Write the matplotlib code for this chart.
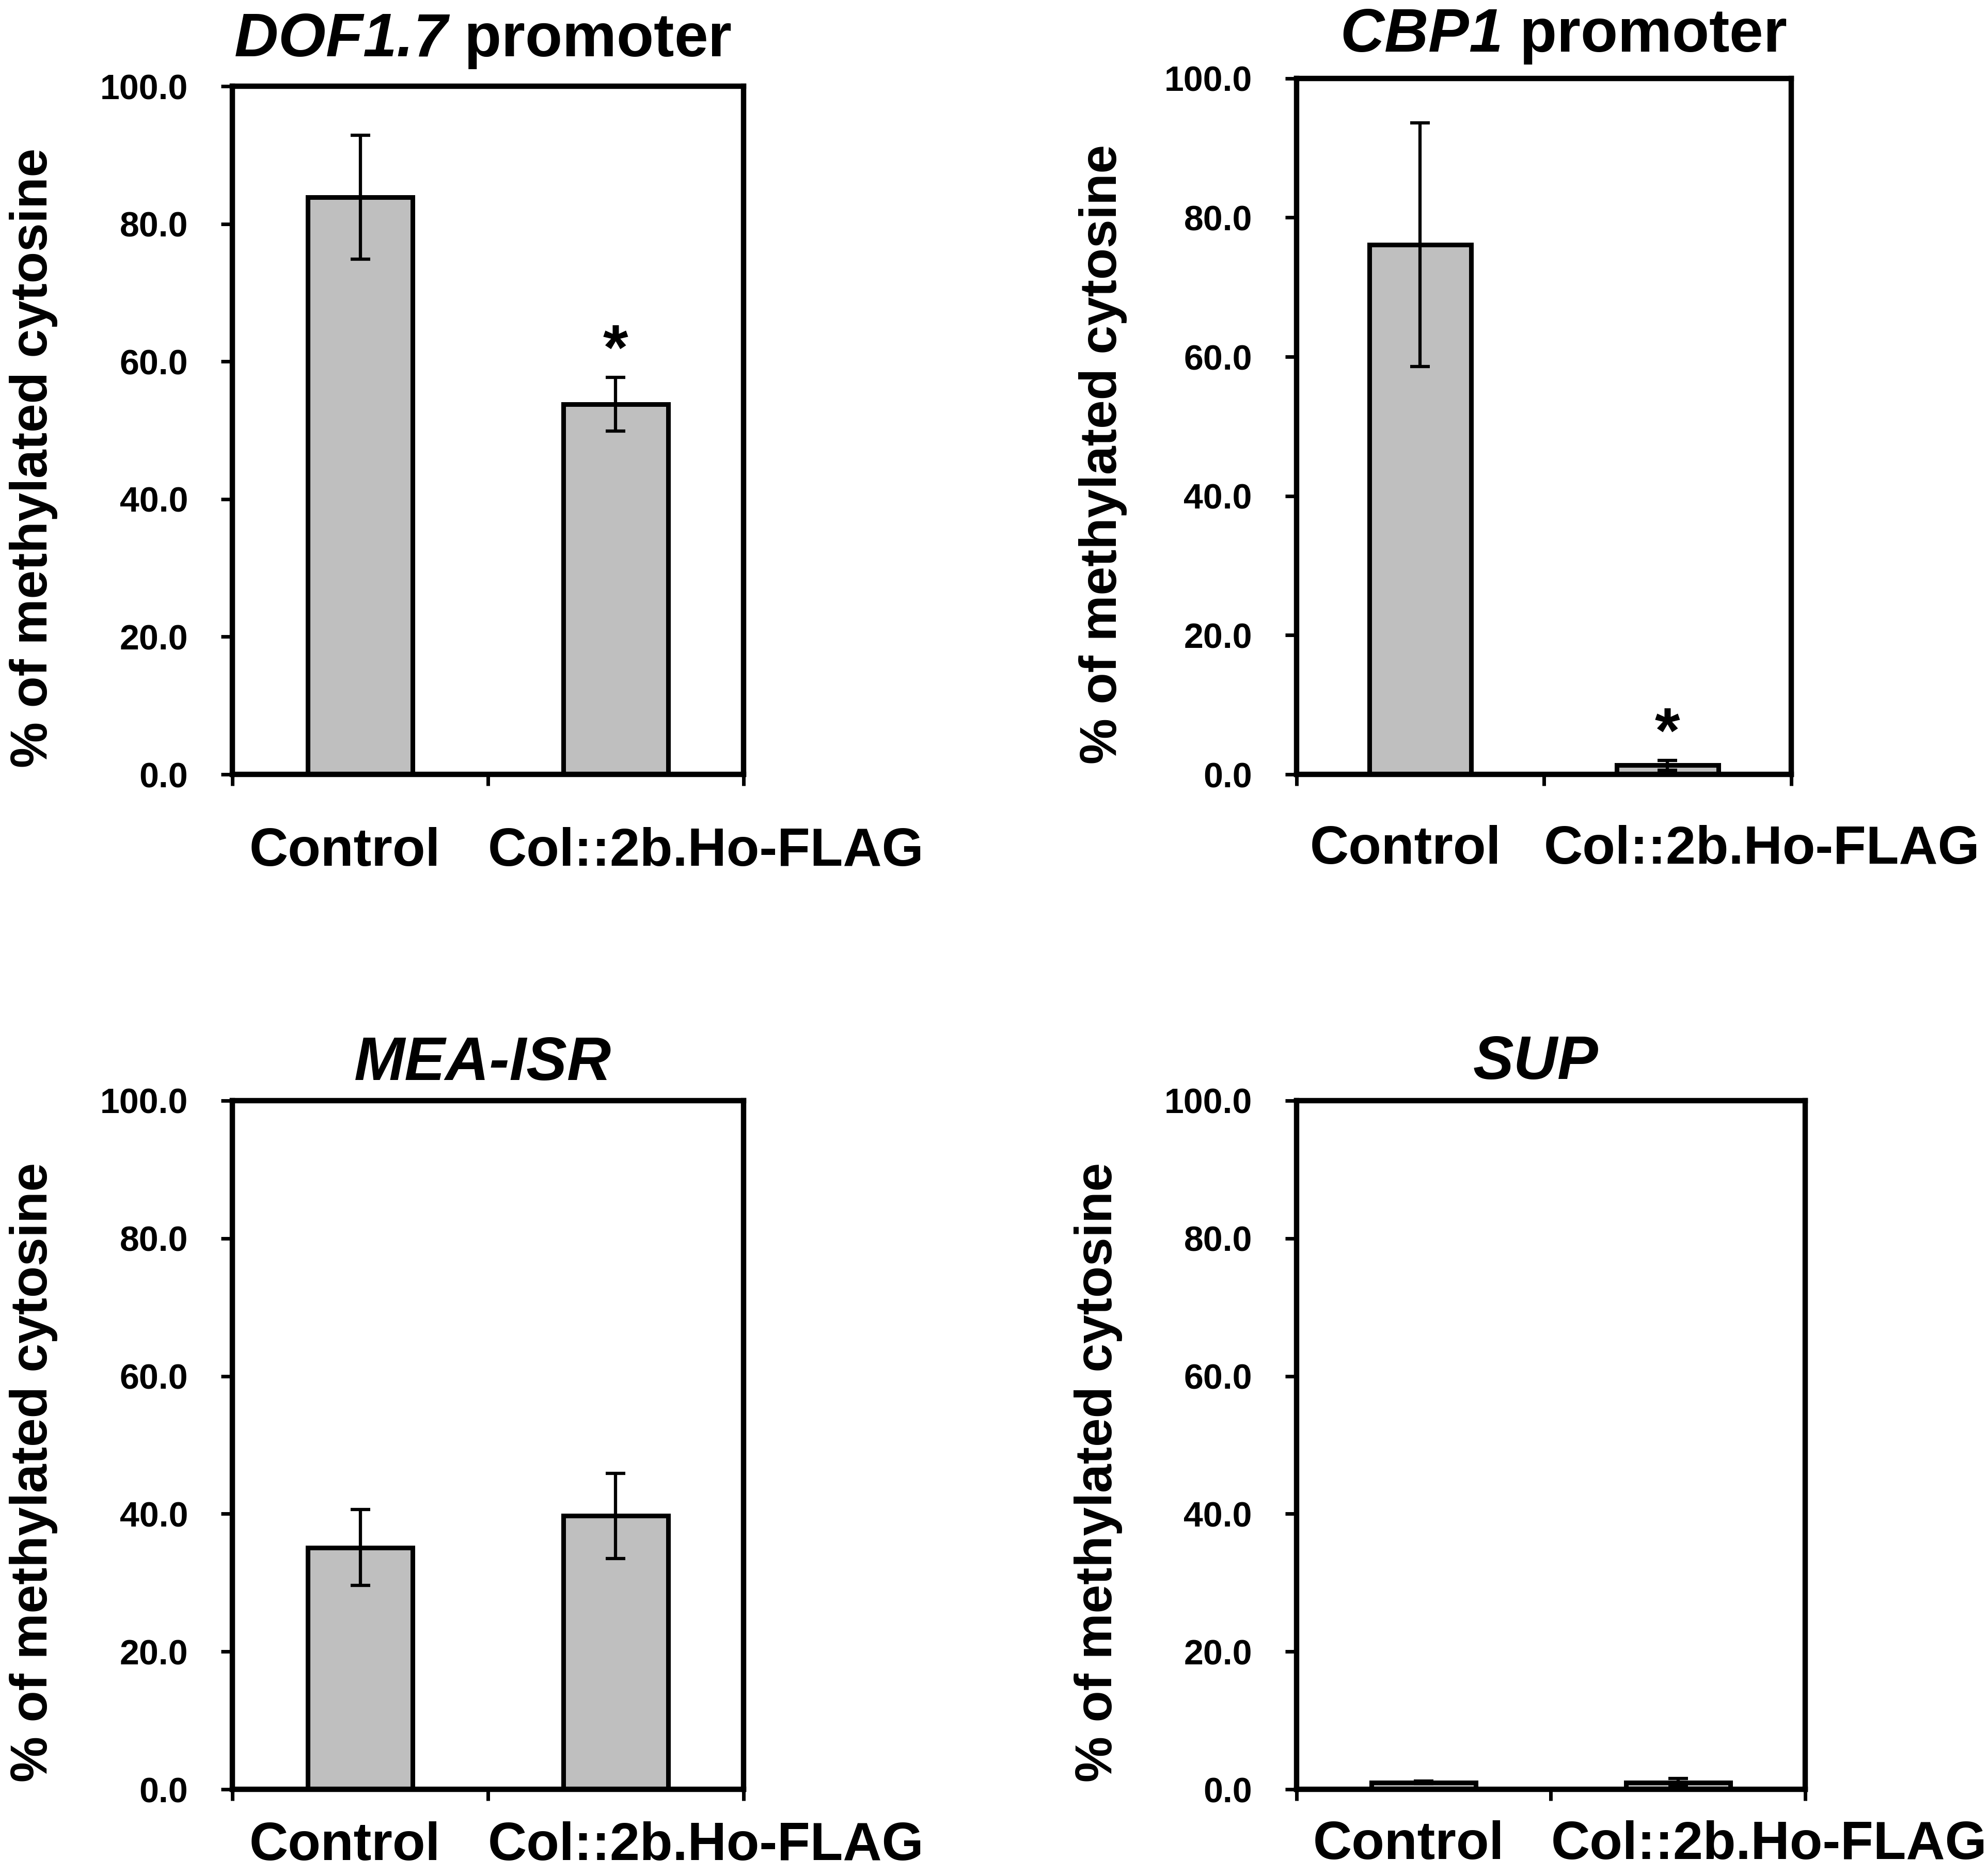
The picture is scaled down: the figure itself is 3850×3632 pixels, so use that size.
import matplotlib
matplotlib.use("Agg")
import matplotlib.pyplot as plt
import numpy as np

plt.rcParams["font.family"] = ["Liberation Sans", "DejaVu Sans"]
plt.rcParams["font.weight"] = "bold"
plt.rcParams["mathtext.fontset"] = "custom"
plt.rcParams["mathtext.bfit"] = "Liberation Sans:italic:bold"
plt.rcParams["mathtext.rm"] = "Liberation Sans:bold"

# data (% of methylated cytosine, mean and error)
categories = ["Control", "Col::2b.Ho-FLAG"]

titles = [r"$\mathbfit{DOF1.7}$ promoter", r"$\mathbfit{CBP1}$ promoter", "MEA-ISR", "SUP"]
title_italic = [False, False, True, True]

dof_mean = [83.9, 53.8]
dof_err = [9.0, 3.9]
dof_sig = [False, True]

cbp_mean = [76.1, 1.3]
cbp_err = [17.5, 0.7]
cbp_sig = [False, True]

mea_mean = [35.1, 39.7]
mea_err = [5.5, 6.2]
mea_sig = [False, False]

sup_mean = [1.0, 1.0]
sup_err = [0.2, 0.6]
sup_sig = [False, False]

yticks = [0, 20, 40, 60, 80, 100]

means = [dof_mean, cbp_mean, mea_mean, sup_mean]
errs = [dof_err, cbp_err, mea_err, sup_err]
sigs = [dof_sig, cbp_sig, mea_sig, sup_sig]

# axes rectangles [left, bottom, width, height] in figure fractions
rects = [
    [0.1169, 0.5870, 0.2571, 0.3670],
    [0.6522, 0.5870, 0.2488, 0.3712],
    [0.1169, 0.0457, 0.2571, 0.3673],
    [0.6522, 0.0457, 0.2558, 0.3673],
]
title_pad = [42, 37, 29, 30]
title_x = [0.49, 0.54, 0.49, 0.47]
label_y = [-0.133, -0.128, -0.103, -0.101]

fig = plt.figure(figsize=(38.5, 36.32), dpi=100)

for i in range(4):
    ax = fig.add_axes(rects[i])
    x = np.arange(1, len(categories) + 1)
    ax.bar(x, means[i], width=0.41, color="#bfbfbf", edgecolor="black",
           linewidth=6.5, zorder=2)
    ax.errorbar(x, means[i], yerr=errs[i], fmt="none", ecolor="black",
                elinewidth=4.5, capsize=14, capthick=4.5, zorder=3)
    for xi, m, e, s in zip(x, means[i], errs[i], sigs[i]):
        if s:
            ax.annotate("*", xy=(xi, m + e), xytext=(0, 11),
                        textcoords="offset points", ha="center",
                        va="baseline", fontsize=90, fontweight="bold")

    ax.set_xlim(0.5, 2.5)
    ax.set_ylim(0, 100)
    ax.set_yticks(yticks)
    ax.set_yticklabels(["%.1f" % t for t in yticks], fontsize=49,
                       fontweight="bold")
    ax.set_xticks([0.5, 1.5, 2.5])
    ax.set_xticklabels([])
    ax.tick_params(axis="both", direction="out", length=16, width=5)
    ax.tick_params(axis="y", pad=46)

    for sp in ax.spines.values():
        sp.set_linewidth(7.5)

    # category labels sit a bit off-centre, as in the original
    ax.text(0.94, label_y[i], categories[0], transform=ax.get_xaxis_transform(),
            ha="center", va="baseline", fontsize=75, fontweight="bold")
    ax.text(1.5, label_y[i], categories[1], transform=ax.get_xaxis_transform(),
            ha="left", va="baseline", fontsize=75, fontweight="bold")

    ax.set_ylabel("% of methylated cytosine", fontsize=72, fontweight="bold")
    ax.yaxis.set_label_coords(-0.342, 0.46)

    style = "italic" if title_italic[i] else "normal"
    ax.set_title(titles[i], fontsize=85, fontweight="bold", fontstyle=style,
                 pad=title_pad[i], x=title_x[i])

fig.savefig("out.png", dpi=100, facecolor="white")
